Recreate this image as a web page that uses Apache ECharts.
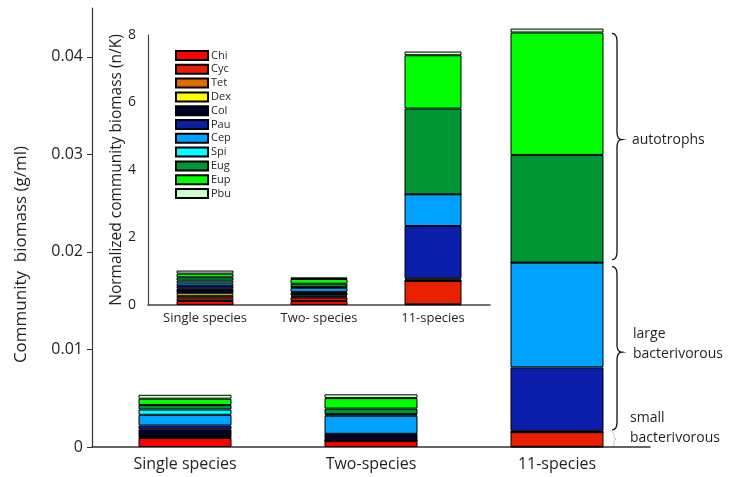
<!DOCTYPE html>
<html>
<head>
<meta charset="utf-8">
<script src="https://cdn.jsdelivr.net/npm/echarts@6/dist/echarts.min.js"></script>
<style>
  html, body { margin: 0; padding: 0; background: #fff; }
  #chart { width: 733px; height: 477px; }
</style>
</head>
<body>
<div id="chart"></div>
<script>
// Community composition
const categories = ['Single species', 'Two-species', '11-species'];
const insetCategories = ['Single species', 'Two- species', '11-species'];
const species = ['Chi', 'Cyc', 'Tet', 'Dex', 'Col', 'Pau', 'Cep', 'Spi', 'Eug', 'Eup', 'Pbu'];
const speciesColors = ['#FF0000', '#E82000', '#E06A00', '#FFFF00', '#000028', '#0A1EAA',
                       '#00A2FF', '#00FFFF', '#009636', '#00FF00', '#CCFFCC'];

// Community biomass (g/ml) per species: [single, two, eleven]
const biomassChi = [0.00092, 0.00060, 0.00002];
const biomassCyc = [0.00005, 0.00004, 0.00150];
const biomassTet = [0.00012, 0.00003, 0];
const biomassDex = [0.00003, 0.00002, 0.00002];
const biomassCol = [0.00070, 0.00062, 0.00012];
const biomassPau = [0.00038, 0.00004, 0.00650];
const biomassCep = [0.00110, 0.00185, 0.01074];
const biomassSpi = [0.00054, 0.00017, 0];
const biomassEug = [0.00046, 0.00057, 0.01104];
const biomassEup = [0.00065, 0.00107, 0.01255];
const biomassPbu = [0.00040, 0.00039, 0.00040];

// Normalized community biomass (n/K) per species: [single, two, eleven]
const normChi = [0.12, 0.12, 0.02];
const normCyc = [0.08, 0.10, 0.69];
const normTet = [0.07, 0.03, 0];
const normDex = [0.08, 0.03, 0.04];
const normCol = [0.13, 0.08, 0.04];
const normPau = [0.08, 0.03, 1.55];
const normCep = [0.08, 0.12, 0.94];
const normSpi = [0.08, 0.02, 0];
const normEug = [0.10, 0.10, 2.54];
const normEup = [0.11, 0.14, 1.58];
const normPbu = [0.09, 0.05, 0.11];

// Main y-axis ticks
const mainTicks = [0, 0.01, 0.02, 0.03, 0.04];

const biomass = [biomassChi, biomassCyc, biomassTet, biomassDex, biomassCol, biomassPau,
                 biomassCep, biomassSpi, biomassEug, biomassEup, biomassPbu];
const normalized = [normChi, normCyc, normTet, normDex, normCol, normPau,
                    normCep, normSpi, normEug, normEup, normPbu];

const FONT = "'Open Sans', 'Noto Sans', sans-serif";
const INK = '#231F20';

const series = [];
species.forEach((name, i) => {
  const itemStyle = { color: speciesColors[i], borderColor: '#000', borderWidth: 1 };
  series.push({
    name, type: 'bar', stack: 'main', xAxisIndex: 0, yAxisIndex: 0,
    barWidth: '50%', itemStyle, data: biomass[i], emphasis: { disabled: true }
  });
  series.push({
    name, type: 'bar', stack: 'inset', xAxisIndex: 1, yAxisIndex: 1,
    barWidth: '50%', itemStyle, data: normalized[i], emphasis: { disabled: true }
  });
});

const chart = echarts.init(document.getElementById('chart'), null, { renderer: 'canvas' });

chart.setOption({
  animation: false,
  backgroundColor: '#fff',
  textStyle: { fontFamily: FONT, color: INK },
  legend: {
    data: species,
    orient: 'vertical',
    left: 175, top: 50,
    padding: 0,
    itemWidth: 32, itemHeight: 9, itemGap: 2.8,
    icon: 'rect',
    selectedMode: false,
    textStyle: { fontFamily: FONT, fontSize: 11, color: INK, lineHeight: 11, padding: [0, 0, 0, -2] }
  },
  grid: [
    { left: 92, right: 83, top: 8, bottom: 30, containLabel: false },
    { left: 148, right: 243, top: 35, bottom: 172, containLabel: false }
  ],
  xAxis: [
    {
      type: 'category', gridIndex: 0, data: categories,
      axisLine: { lineStyle: { color: '#333', width: 1.5 } },
      axisTick: { show: false },
      axisLabel: { fontSize: 16, color: INK, margin: 9, fontFamily: FONT }
    },
    {
      type: 'category', gridIndex: 1, data: insetCategories,
      axisLine: { lineStyle: { color: '#444', width: 1.5 } },
      axisTick: { show: false },
      axisLabel: { fontSize: 13, color: INK, margin: 7, fontFamily: FONT }
    }
  ],
  yAxis: [
    {
      type: 'value', gridIndex: 0, min: 0, max: 0.045,
      name: 'Community  biomass (g/ml)', nameLocation: 'middle', nameGap: 62,
      nameTextStyle: { fontSize: 17, color: INK, fontFamily: FONT, padding: [0, 54, 0, 0] },
      axisLine: { show: true, lineStyle: { color: '#333', width: 1.2 } },
      axisTick: { show: true, length: 5, customValues: mainTicks, lineStyle: { color: '#333' } },
      axisLabel: { fontSize: 16, color: INK, margin: 9, customValues: mainTicks, fontFamily: FONT },
      splitLine: { show: false }
    },
    {
      type: 'value', gridIndex: 1, min: 0, max: 8, interval: 2,
      name: 'Normalized community biomass (n/K)', nameLocation: 'middle', nameGap: 23,
      nameTextStyle: { fontSize: 15.5, color: INK, fontFamily: FONT },
      axisLine: { show: true, lineStyle: { color: '#444', width: 1.2 } },
      axisTick: { show: false },
      axisLabel: { fontSize: 14, color: INK, margin: 12, fontFamily: FONT },
      splitLine: { show: false }
    }
  ],
  series
});

// Group braces beside the 11-species bar, placed from the stacked data
function cumulative(upTo) {
  let s = 0;
  for (let i = 0; i <= upTo; i++) s += biomass[i][2];
  return s;
}
function yPix(v) { return chart.convertToPixel({ yAxisIndex: 0 }, v); }

// Sample a quadratic curve from p0 through control c to p1
function quad(pts, p0, c, p1, n) {
  for (let k = 1; k <= n; k++) {
    const t = k / n, u = 1 - t;
    pts.push([u * u * p0[0] + 2 * u * t * c[0] + t * t * p1[0],
              u * u * p0[1] + 2 * u * t * c[1] + t * t * p1[1]]);
  }
}
// Right-pointing curly brace between t and b
function bracePoints(x, t, b, d, midOffset) {
  const m = (t + b) / 2 + (midOffset || 0);
  const h = d / 2, r = Math.min(h * 1.6, (b - t) / 4);
  const pts = [[x, t]];
  quad(pts, [x, t], [x + h, t], [x + h, t + r], 6);
  pts.push([x + h, m - r]);
  quad(pts, [x + h, m - r], [x + h, m], [x + d, m], 6);
  quad(pts, [x + d, m], [x + h, m], [x + h, m + r], 6);
  pts.push([x + h, b - r]);
  quad(pts, [x + h, b - r], [x + h, b], [x, b], 6);
  return pts;
}

const idx = name => species.indexOf(name);
const barRight = chart.convertToPixel({ xAxisIndex: 0 }, categories[2]) + 47;
const bx = barRight + 8;

const autoTop = yPix(cumulative(idx('Eup'))) + 1;
const autoBot = yPix(cumulative(idx('Spi'))) - 3;
const largeTop = yPix(cumulative(idx('Cep'))) + 4;
const largeBot = yPix(cumulative(idx('Col'))) - 1;
const smallTop = largeBot + 2;
const smallBot = yPix(0);

const autoMid = (autoTop + autoBot) / 2 - 7;
const largeMid = (largeTop + largeBot) / 2 + 4;

const braceStyle = { stroke: '#111', lineWidth: 1.3, fill: null };
chart.setOption({
  graphic: [
    { type: 'polyline', shape: { points: bracePoints(bx, autoTop, autoBot, 10, -7) }, style: braceStyle, silent: true },
    { type: 'polyline', shape: { points: bracePoints(bx, largeTop, largeBot, 10, 4) }, style: braceStyle, silent: true },
    { type: 'polyline', shape: { points: bracePoints(bx, smallTop, smallBot, 4, 0) },
      style: { stroke: '#aaa', lineWidth: 1, fill: null, lineDash: [2, 1] }, silent: true },
    { type: 'text', x: bx + 20, y: autoMid,
      style: { text: 'autotrophs', fontSize: 14, fontFamily: FONT, fill: INK, verticalAlign: 'middle', align: 'left' } },
    { type: 'text', x: bx + 21, y: largeMid - 8,
      style: { text: 'large\nbacterivorous', fontSize: 14, lineHeight: 20, fontFamily: FONT, fill: INK, verticalAlign: 'middle', align: 'left' } },
    { type: 'text', x: bx + 18, y: smallBot - 19,
      style: { text: 'small\nbacterivorous', fontSize: 14, lineHeight: 20, fontFamily: FONT, fill: INK, verticalAlign: 'middle', align: 'left' } }
  ]
});
</script>
</body>
</html>
